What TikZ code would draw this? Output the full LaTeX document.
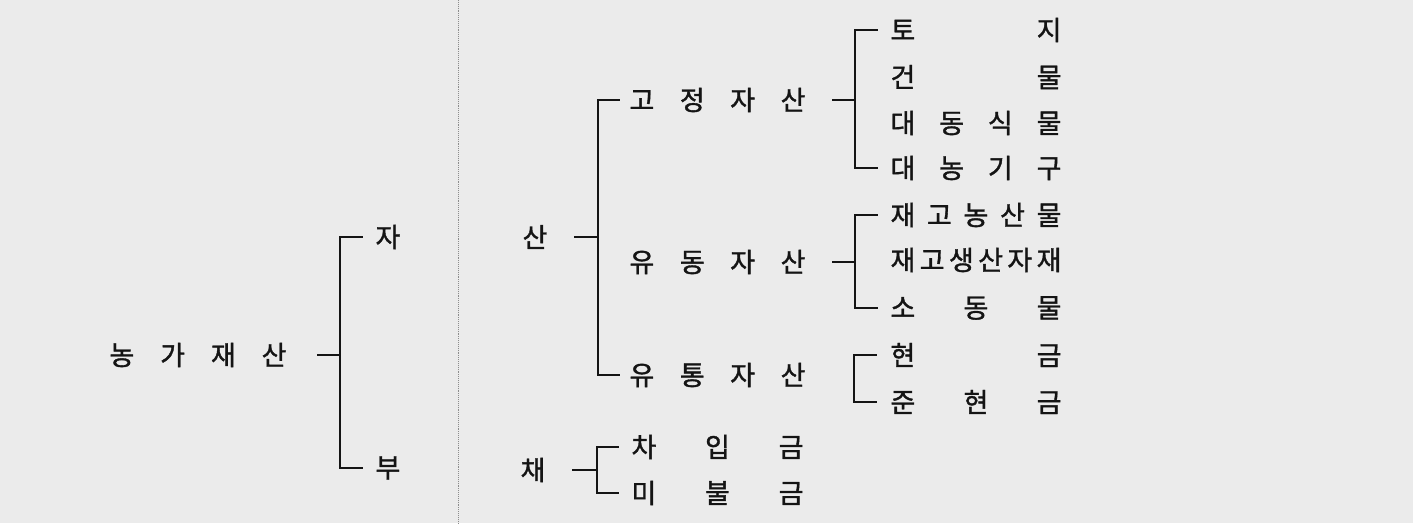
\documentclass[tikz,border=0pt]{standalone}
\usepackage{fontspec}
\newfontfamily\kr{Noto Sans CJK KR}[FakeBold=1.3]
\ExplSyntaxOn
\NewDocumentCommand\spreadchars{mm}{
  \makebox[#1]{
    \bool_set_true:N \l_tmpa_bool
    \tl_map_inline:nn {#2}{
      \bool_if:NF \l_tmpa_bool {\hfill}
      \bool_set_false:N \l_tmpa_bool
      ##1
    }
  }
}
\ExplSyntaxOff
\tikzset{
  lbl/.style={inner sep=0pt, font=\kr\fontsize{27}{32}\selectfont, text=black!92},
  conn/.style={line width=1.4pt, draw=black!92},
  bg/.style={fill=black!8},
  fold/.style={draw=black!45, line width=0.9pt, densely dotted}
}
\begin{document}
\begin{tikzpicture}[x=1pt,y=1pt]
\useasboundingbox (0,0) rectangle (1413,-523);
\fill[bg] (0,0) rectangle (1413,-523);
\draw[fold] (458,0) -- (458,-523);

% nodes
\node[lbl] (root) at (198,-355) {\spreadchars{177pt}{농 가 재 산}};
\node[lbl] (ja) at (388,-237) {자};
\node[lbl] (bu) at (388,-468) {부};
\node[lbl] (san) at (535,-237) {산};
\node[lbl] (chae) at (533,-470) {채};
\node[lbl] (gojeong) at (717.5,-100) {\spreadchars{176pt}{고 정 자 산}};
\node[lbl] (yudong) at (717.5,-262) {\spreadchars{176pt}{유 동 자 산}};
\node[lbl] (yutong) at (717.5,-375) {\spreadchars{176pt}{유 통 자 산}};
\node[lbl] (chaip) at (717.5,-447) {\spreadchars{172pt}{차 입 금}};
\node[lbl] (mibul) at (717.5,-493) {\spreadchars{172pt}{미 불 금}};
\node[lbl] (toji) at (976,-30) {\spreadchars{171pt}{토 지}};
\node[lbl] (geonmul) at (976,-77) {\spreadchars{171pt}{건 물}};
\node[lbl] (daedong) at (976,-123) {\spreadchars{171pt}{대 동 식 물}};
\node[lbl] (daenong) at (976,-168) {\spreadchars{171pt}{대 농 기 구}};
\node[lbl] (jaegoA) at (976,-215) {\spreadchars{171pt}{재 고 농 산 물}};
\node[lbl] (jaegoB) at (976,-260) {\spreadchars{171pt}{재고생산자재}};
\node[lbl] (sodong) at (976,-308) {\spreadchars{171pt}{소 동 물}};
\node[lbl] (hyeongeum) at (976,-355) {\spreadchars{171pt}{현 금}};
\node[lbl] (junhyeon) at (976,-402) {\spreadchars{171pt}{준 현 금}};

% bracket spines
\coordinate (s0) at (340,0);
\coordinate (s1) at (598,0);
\coordinate (s2) at (597,0);
\coordinate (s3) at (855,0);
\coordinate (s4) at (855,0);
\coordinate (s5) at (854,0);

% root
\draw[conn] ([xshift=30.5pt]root.east) -- (root.east -| s0);
\draw[conn] ([xshift=-12.5pt]ja.west) -- (ja.west -| s0) -- (bu.west -| s0) -- ([xshift=-12.5pt]bu.west);
% assets
\draw[conn] ([xshift=26.5pt]san.east) -- (san.east -| s1);
\draw[conn] ([xshift=-9.5pt]gojeong.west) -- (gojeong.west -| s1) -- (yutong.west -| s1) -- ([xshift=-9.5pt]yutong.west);
% liabilities
\draw[conn] ([xshift=26.5pt]chae.east) -- (chae.east -| s2);
\draw[conn] ([xshift=-12.5pt]chaip.west) -- (chaip.west -| s2) -- (mibul.west -| s2) -- ([xshift=-12.5pt]mibul.west);
% fixed assets
\draw[conn] ([xshift=26.5pt]gojeong.east) -- (gojeong.east -| s3);
\draw[conn] ([xshift=-12.5pt]toji.west) -- (toji.west -| s3) -- (daenong.west -| s3) -- ([xshift=-12.5pt]daenong.west);
% current assets
\draw[conn] ([xshift=26.5pt]yudong.east) -- (yudong.east -| s4);
\draw[conn] ([xshift=-12.5pt]jaegoA.west) -- (jaegoA.west -| s4) -- (sodong.west -| s4) -- ([xshift=-12.5pt]sodong.west);
% cash bracket
\draw[conn] ([xshift=-13.5pt]hyeongeum.west) -- (hyeongeum.west -| s5) -- (junhyeon.west -| s5) -- ([xshift=-13.5pt]junhyeon.west);
\end{tikzpicture}
\end{document}
